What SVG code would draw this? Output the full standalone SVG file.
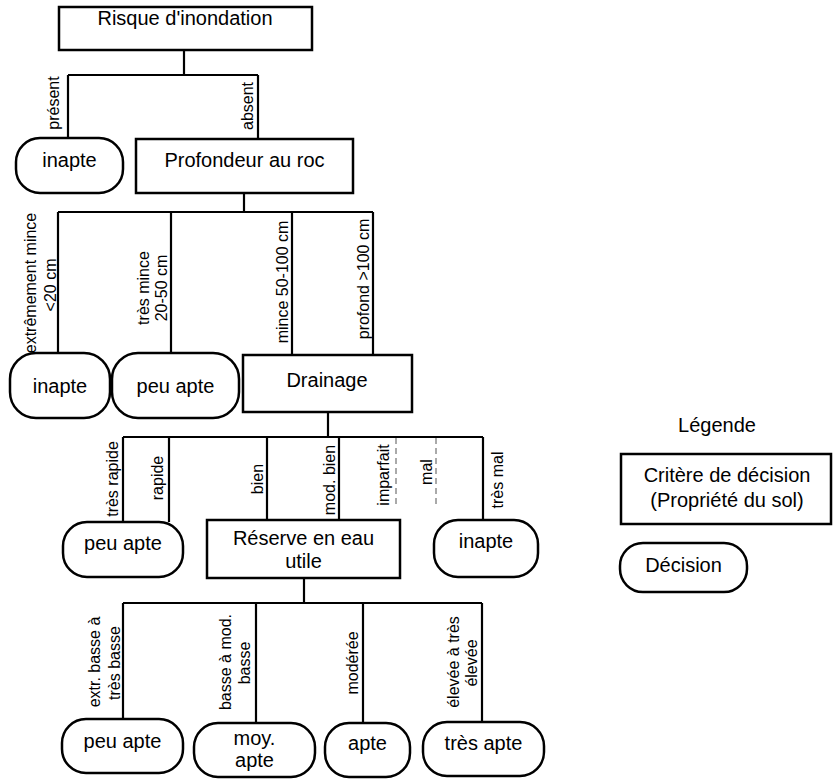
<svg xmlns="http://www.w3.org/2000/svg" width="833" height="779" viewBox="0 0 833 779">
<style>
.box{fill:#fff;stroke:#000;stroke-width:2.5}
.dec{fill:#fff;stroke:#000;stroke-width:2.5}
.t{font-family:"Liberation Sans",Arial,sans-serif;font-size:20px;fill:#000;text-anchor:middle}
.l{font-family:"Liberation Sans",Arial,sans-serif;font-size:16px;fill:#000;text-anchor:middle}
.ln{stroke:#000;stroke-width:2.2;fill:none}
.dash{stroke:#555;stroke-width:1;fill:none;stroke-dasharray:6,4}
</style>
<rect width="833" height="779" fill="#fff"/>
<g id="connectors">
<path class="ln" d="M184,50V75M68,75H258M68,75V138M258,75V139"/>
<path class="ln" d="M244,193V212M58,212H373M58,212V353M171,212V353M292,212V355M373,212V355"/>
<path class="ln" d="M328,412V437M123,437H483M123,437V522M169,437V522M267,437V520M339,437V520M483,437V522"/>
<path class="dash" d="M396,438V508M436,438V508"/>
<path class="ln" d="M304,578V603M123,603H482M123,603V719M256,603V723M363,603V723M482,603V722"/>
</g>
<g id="labels">
<text class="l" transform="translate(59,103) rotate(-90)">présent</text>
<text class="l" transform="translate(253,106) rotate(-90)">absent</text>
<text class="l" transform="translate(36,283) rotate(-90)">extrêmement mince</text>
<text class="l" transform="translate(56,285) rotate(-90)">&lt;20 cm</text>
<text class="l" transform="translate(149,288) rotate(-90)">très mince</text>
<text class="l" transform="translate(167,288) rotate(-90)">20-50 cm</text>
<text class="l" transform="translate(288,282) rotate(-90)">mince 50-100 cm</text>
<text class="l" transform="translate(369,279) rotate(-90)">profond &gt;100 cm</text>
<text class="l" transform="translate(118,479) rotate(-90)">très rapide</text>
<text class="l" transform="translate(163,478) rotate(-90)">rapide</text>
<text class="l" transform="translate(263,479) rotate(-90)">bien</text>
<text class="l" transform="translate(335,480) rotate(-90)">mod. bien</text>
<text class="l" transform="translate(389,475) rotate(-90)">imparfait</text>
<text class="l" transform="translate(432,472) rotate(-90)">mal</text>
<text class="l" transform="translate(503,480) rotate(-90)">très mal</text>
<text class="l" transform="translate(100,662) rotate(-90)">extr. basse à</text>
<text class="l" transform="translate(120,663) rotate(-90)">très basse</text>
<text class="l" transform="translate(231,662) rotate(-90)">basse à mod.</text>
<text class="l" transform="translate(250,663) rotate(-90)">basse</text>
<text class="l" transform="translate(358,663) rotate(-90)">modérée</text>
<text class="l" transform="translate(459,662) rotate(-90)">élevée à très</text>
<text class="l" transform="translate(477,663) rotate(-90)">élevée</text>
</g>
<g id="risque"><rect class="box" x="59" y="7" width="253" height="43"/><text class="t" x="185" y="25">Risque d'inondation</text></g>
<g id="inapte1"><rect class="dec" x="16" y="138" width="107" height="55" rx="24"/><text class="t" x="69.5" y="167">inapte</text></g>
<g id="profondeur"><rect class="box" x="136" y="139" width="217" height="54"/><text class="t" x="244.5" y="167">Profondeur au roc</text></g>
<g id="inapte2"><rect class="dec" x="10" y="353" width="100" height="65" rx="26"/><text class="t" x="60" y="393">inapte</text></g>
<g id="peuapte1"><rect class="dec" x="112" y="353" width="127" height="65" rx="26"/><text class="t" x="175.5" y="393">peu apte</text></g>
<g id="drainage"><rect class="box" x="243" y="355" width="169" height="57"/><text class="t" x="327" y="387">Drainage</text></g>
<g id="peuapte2"><rect class="dec" x="63" y="522" width="120" height="55" rx="24"/><text class="t" x="123" y="550">peu apte</text></g>
<g id="reserve"><rect class="box" x="207" y="520" width="193" height="58"/><text class="t" x="303.5" y="545">Réserve en eau</text><text class="t" x="303.5" y="568">utile</text></g>
<g id="inapte3"><rect class="dec" x="434" y="520" width="104" height="57" rx="24"/><text class="t" x="486" y="548">inapte</text></g>
<g id="peuapte3"><rect class="dec" x="62" y="719" width="121" height="54" rx="24"/><text class="t" x="122.5" y="748">peu apte</text></g>
<g id="moyapte"><rect class="dec" x="194" y="723" width="121" height="54" rx="24"/><text class="t" x="254.5" y="745">moy.</text><text class="t" x="254.5" y="767">apte</text></g>
<g id="apte"><rect class="dec" x="325" y="723" width="85" height="54" rx="24"/><text class="t" x="367.5" y="750">apte</text></g>
<g id="tresapte"><rect class="dec" x="423" y="722" width="121" height="54" rx="24"/><text class="t" x="483.5" y="750">très apte</text></g>
<g id="legende">
<text class="t" x="717" y="432">Légende</text>
<rect class="box" x="621" y="454" width="210" height="70"/>
<text class="t" x="727" y="482">Critère de décision</text>
<text class="t" x="727" y="507">(Propriété du sol)</text>
<rect class="dec" x="620" y="543" width="127" height="49" rx="23"/>
<text class="t" x="683.5" y="572">Décision</text>
</g>
</svg>
